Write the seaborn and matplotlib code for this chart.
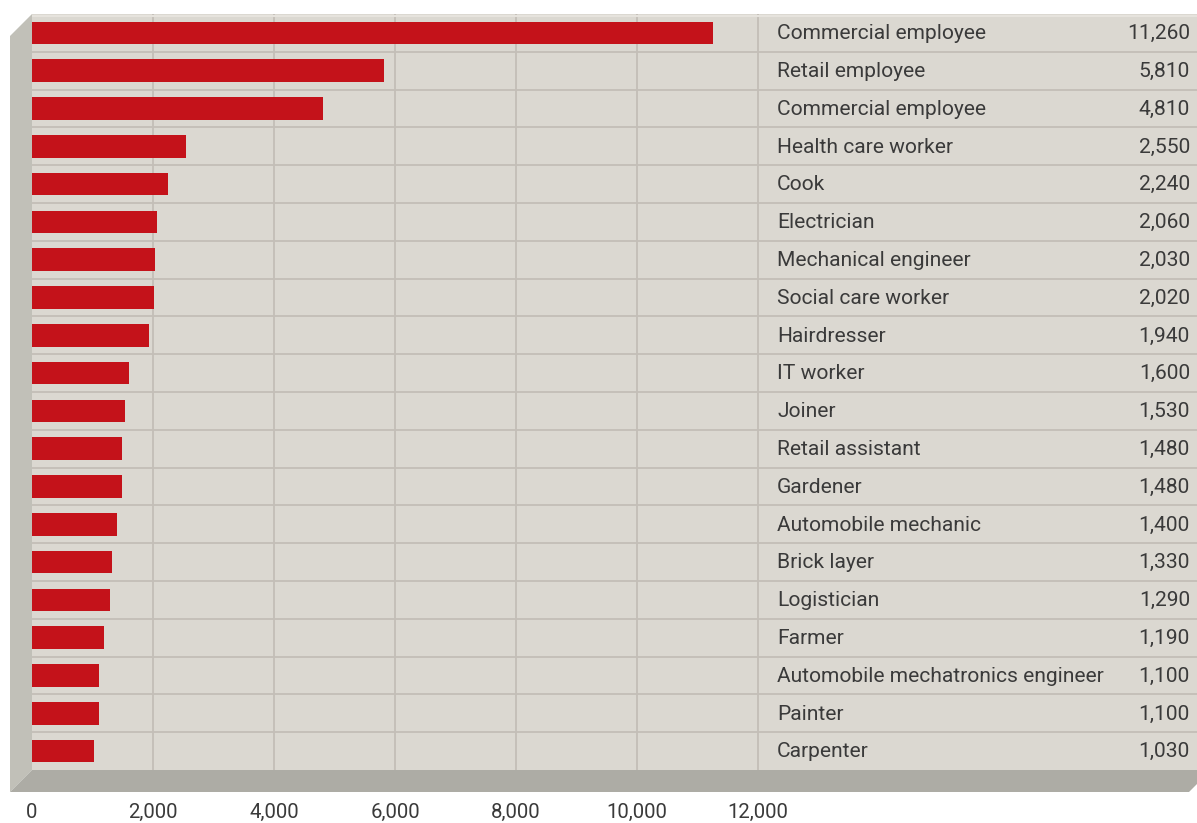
import matplotlib
matplotlib.use("Agg")
import matplotlib.pyplot as plt
import seaborn as sns
import pandas as pd
from matplotlib.patches import Polygon
import matplotlib.transforms as mtransforms

occupations = ["Commercial employee", "Retail employee", "Commercial employee",
               "Health care worker", "Cook", "Electrician", "Mechanical engineer",
               "Social care worker", "Hairdresser", "IT worker", "Joiner",
               "Retail assistant", "Gardener", "Automobile mechanic", "Brick layer",
               "Logistician", "Farmer", "Automobile mechatronics engineer",
               "Painter", "Carpenter"]
values = [11260, 5810, 4810, 2550, 2240, 2060, 2030, 2020, 1940, 1600, 1530,
          1480, 1480, 1400, 1330, 1290, 1190, 1100, 1100, 1030]
xticks = [0, 2000, 4000, 6000, 8000, 10000, 12000]
xtick_labels = ["0", "2,000", "4,000", "6,000", "8,000", "10,000", "12,000"]

W, H = 1197, 823
BAR = "#c4121a"
WALL = "#dbd8d1"
SIDE = "#c1c0b8"
FLOOR = "#adaca5"
GRID = "#c3beb7"
TXT = "#3a3a3a"
FONT = ["Roboto", "DejaVu Sans"]

sns.set_theme(style="white")
plt.rcParams["font.family"] = FONT

fig = plt.figure(figsize=(W / 100, H / 100), dpi=100)

# background axes in pixel coordinates for the 3D walls
bg = fig.add_axes([0, 0, 1, 1], zorder=0)
bg.set_xlim(0, W)
bg.set_ylim(H, 0)
bg.axis("off")
bg.add_patch(Polygon([(10, 36), (32, 14), (32, 770), (10, 792)], closed=True,
                     facecolor=SIDE, edgecolor="none"))
bg.add_patch(Polygon([(10, 792), (32, 770), (1197, 770), (1197, 784), (1189, 792)],
                     closed=True, facecolor=FLOOR, edgecolor="none"))

# main axes = back wall
left, top, right, bottom = 32, 14, 1197, 770
ax = fig.add_axes([left / W, (H - bottom) / H, (right - left) / W, (bottom - top) / H], zorder=1)
ax.set_facecolor(WALL)

x_max = (right - left) / (758 - left) * 12000

df = pd.DataFrame({"pos": list(range(len(values))), "value": values})
sns.barplot(data=df, x="value", y="pos", orient="h", color=BAR, width=0.6,
            saturation=1, ax=ax, zorder=3, errorbar=None,
            edgecolor="none", linewidth=0)

ax.set_xlim(0, x_max)
ax.set_ylim(len(values) - 0.5, -0.5)

# grid lines
for xv in xticks[1:]:
    ax.axvline(xv, color=GRID, lw=1.3, zorder=1)
for i in range(len(values) - 1):
    ax.axhline(i + 0.5, color=GRID, lw=1.3, zorder=1)
ax.axhline(-0.5 + 0.04, color="#e6e3dd", lw=1.5, zorder=1)

# labels and values on right panel
trans = mtransforms.blended_transform_factory(ax.transAxes, ax.transData)
lx = (777 - left) / (right - left)
vx = (1190 - left) / (right - left)
for i, (name, v) in enumerate(zip(occupations, values)):
    ax.text(lx, i + 0.02, name, transform=trans, ha="left", va="center",
            fontsize=15.1, color=TXT, family=FONT)
    ax.text(vx, i + 0.02, f"{v:,}", transform=trans, ha="right", va="center",
            fontsize=15.1, color=TXT, family=FONT)

ax.set_xticks(xticks)
ax.set_xticklabels(xtick_labels, fontsize=14.7, color=TXT, family=FONT)
ax.tick_params(axis="x", length=0, pad=24)
ax.set_yticks([])
ax.set_xlabel("")
ax.set_ylabel("")
for s in ax.spines.values():
    s.set_visible(False)

fig.savefig("out.png", dpi=100, facecolor="white")
